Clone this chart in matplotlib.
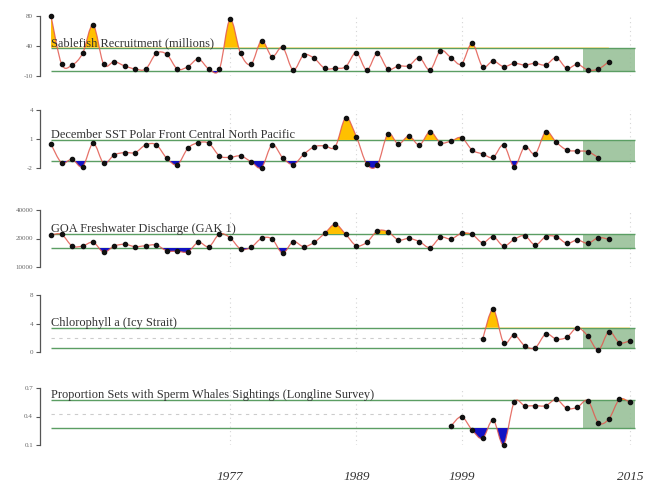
import matplotlib.pyplot as plt
import numpy as np
from matplotlib.path import Path
from matplotlib.patches import PathPatch, Rectangle

# Indicator series
sable_years = list(range(1960, 2014))
sable_vals = [80, 8, 6.5, 24, 66.5, 7.5, 11.5, 5, 0.5, 0.5, 24, 22.5, 0.5, 4, 15.5, 0.5, 0.5, 75,
              24, 7.5, 43, 19, 33, -1, 21.5, 16.5, 1.5, 1.5, 4, 25, -1, 24, 0.5, 5, 5.5, 17.5,
              -1, 28, 17.5, 8, 39, 4, 12.5, 4, 9, 6.5, 9, 6.5, 17.5, 1.5, 7.5, -1, 0.5, 11.5]

sst_years = list(range(1960, 2013))
sst_vals = [0.45, -1.45, -1.1, -1.85, 0.55, -1.5, -0.65, -0.4, -0.4, 0.4, 0.4, -1.0, -1.65, 0.05,
            0.62, 0.55, -0.75, -0.9, -0.75, -1.35, -1.95, 0.4, -0.93, -1.65, -0.6, 0.2, 0.3, 0.2,
            3.2, 1.25, -1.6, -1.7, 1.52, 0.48, 1.31, 0.38, 1.76, 0.62, 0.79, 1.14, -0.14,
            -0.55, -0.9, 0.38, -1.85, 0.2, -0.55, 1.76, 0.66, -0.14, -0.24, -0.31, -0.93]

goa_years = list(range(1960, 2014))
goa_vals = [26840, 27190, 21050, 21050, 23000, 17800, 21050, 21950, 20700, 21230, 21580, 18500,
            18300, 18000, 23000, 20700, 27370, 25440, 19500, 20350, 25090, 24740, 17300, 23330,
            20700, 23000, 27720, 32460, 27190, 21230, 23000, 28950, 28600, 24210, 25090, 23330,
            20260, 25610, 24740, 27720, 27190, 22790, 25960, 21050, 24560, 26490, 21580, 25960,
            25960, 22460, 24210, 22460, 25440, 24560]

chl_years = list(range(2001, 2016))
chl_vals = [1.78, 5.99, 1.3, 2.38, 0.88, 0.6, 2.52, 1.82, 2.06, 3.41, 2.24, 0.28, 2.85, 1.3, 1.58]

whale_years = list(range(1998, 2016))
whale_vals = [0.30, 0.398, 0.258, 0.17, 0.363, 0.105, 0.55, 0.514, 0.514, 0.514, 0.58, 0.486,
              0.497, 0.567, 0.335, 0.374, 0.58, 0.55]

titles = ["Sablefish Recruitment (millions)",
          "December SST Polar Front Central North Pacific",
          "GOA Freshwater Discharge (GAK 1)",
          "Chlorophyll a (Icy Strait)",
          "Proportion Sets with Sperm Whales Sightings (Longline Survey)"]

# mean +/- 1 sd bands
upper = [32.5, 0.9, 27300, 3.41, 0.574]
lower = [-2.5, -1.25, 20000, 0.6, 0.282]
means = [15, -0.17, 23650, 2.0, 0.43]

# axis range and tick labels
ylims = [(-10, 80), (-2, 4), (10000, 40000), (0, 8), (0.1, 0.7)]
ytick_labels = [["-10", "40", "80"], ["-2", "1", "4"], ["10000", "20000", "40000"],
                ["0", "4", "8"], ["0.1", "0.4", "0.7"]]

year_ticks = [1977, 1989, 1999, 2015]
recent_start, recent_end = 2010.5, 2015.5

series = [(sable_years, sable_vals), (sst_years, sst_vals), (goa_years, goa_vals),
          (chl_years, chl_vals), (whale_years, whale_vals)]

# panel extents in pixels (top, bottom)
panel_px = [(16, 76), (110, 168), (210, 267), (295, 352), (388, 445)]

W, H = 645, 487
fig = plt.figure(figsize=(W / 100, H / 100), dpi=100)
serif = ["Liberation Serif", "DejaVu Serif"]

GREEN = "#5b9e63"
LINE = "#e2594f"
GOLD = "#ffc000"
BLUE = "#1212c4"


def smooth_path(x, y):
    # Catmull-Rom through the points, expressed as cubic Bezier segments
    pts = np.column_stack([x, y]).astype(float)
    ext = np.vstack([pts[0], pts, pts[-1]])
    verts = [pts[0]]
    codes = [Path.MOVETO]
    for i in range(1, len(ext) - 2):
        p0, p1, p2, p3 = ext[i - 1], ext[i], ext[i + 1], ext[i + 2]
        c1 = p1 + (p2 - p0) / 6.0
        c2 = p2 - (p3 - p1) / 6.0
        verts += [c1, c2, p2]
        codes += [Path.CURVE4] * 3
    return verts, codes


def band_fill(ax, verts, codes, x0, x1, level, color, above):
    # area between the curve and a reference level, kept on one side of it
    v = verts + [(x1, level), (x0, level), (x0, level)]
    c = codes + [Path.LINETO, Path.LINETO, Path.CLOSEPOLY]
    patch = PathPatch(Path(v, c), facecolor=color, edgecolor="none", zorder=3)
    ax.add_patch(patch)
    big = 1e7
    y0 = level if above else level - big
    patch.set_clip_path(Rectangle((1900, y0), 200, big, transform=ax.transData))


x_left, x_right = 1958.95, 2016.43
for k, (yrs, vals) in enumerate(series):
    top, bot = panel_px[k]
    ax = fig.add_axes([40 / W, 1 - bot / H, 1 - 40 / W, (bot - top) / H])
    lo, hi = ylims[k]
    ax.set_xlim(x_left, x_right)
    ax.set_ylim(lo, hi)
    for s in ["top", "right", "bottom"]:
        ax.spines[s].set_visible(False)
    ax.spines["left"].set_color("#555555")
    ax.spines["left"].set_linewidth(0.9)
    ax.set_yticks([lo, (lo + hi) / 2, hi])
    ax.set_yticklabels(ytick_labels[k], fontsize=5, color="#666666", family=serif)
    ax.tick_params(axis="y", length=3, width=0.8, color="#555555", pad=2)

    for yr in year_ticks:
        ax.axvline(yr, color="#d5d5d5", lw=0.8, ls=(0, (1, 3)), zorder=0)

    # recent-years box and reference lines
    ax.add_patch(Rectangle((recent_start, lower[k]), recent_end - recent_start,
                           upper[k] - lower[k], facecolor="#93bd93", edgecolor="none",
                           alpha=0.85, zorder=1))
    ax.hlines([upper[k], lower[k]], 1960, recent_end, color=GREEN, lw=1.0, zorder=2)

    if yrs[0] > 1960:
        ax.hlines(means[k], 1960, yrs[0], color="#cccccc", lw=0.8, ls=(0, (3, 4)), zorder=1)

    verts, codes = smooth_path(yrs, vals)
    band_fill(ax, verts, codes, yrs[0], yrs[-1], upper[k], GOLD, True)
    band_fill(ax, verts, codes, yrs[0], yrs[-1], lower[k], BLUE, False)

    ax.add_patch(PathPatch(Path(verts, codes), facecolor="none", edgecolor=LINE,
                           lw=0.9, alpha=0.85, zorder=4, clip_on=False))
    ax.plot(yrs, vals, "o", color="#111111", ms=3.0, zorder=5, clip_on=False)

    ax.annotate(titles[k], (1960, upper[k]), xytext=(0, 1.2), textcoords="offset points",
                ha="left", va="baseline", fontsize=8.9, color="#333333", family=serif,
                zorder=6, annotation_clip=False)

    if k == len(series) - 1:
        ax.set_xticks(year_ticks)
        ax.set_xticklabels([str(y) for y in year_ticks], fontsize=9.5, style="italic",
                           color="#333333", family=serif)
        ax.tick_params(axis="x", length=0, pad=19)
    else:
        ax.set_xticks([])

fig.savefig("out.png", dpi=100)
